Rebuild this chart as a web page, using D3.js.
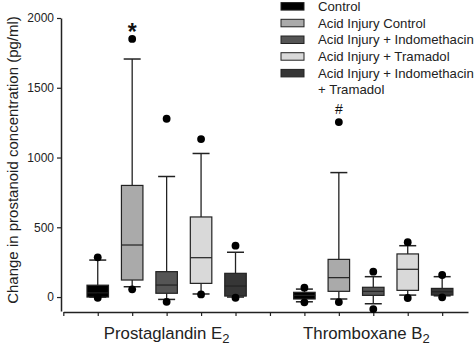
<!DOCTYPE html>
<html><head><meta charset="utf-8">
<script src="https://cdn.jsdelivr.net/npm/d3@7"></script>
<style>body{margin:0;background:#fff}svg{display:block;font-family:"Liberation Sans",Arial,sans-serif}</style>
</head><body><svg id="c" width="474" height="344"></svg>
<script>
const groups = ["Prostaglandin E", "Thromboxane B"];
const seriesNames = ["Control","Acid Injury Control","Acid Injury + Indomethacin","Acid Injury + Tramadol","Acid Injury + Indomethacin + Tramadol"];
const seriesColors = ["#000000","#aaaaaa","#555555","#d9d9d9","#363636"];
// box stats per group: [lowWhisker, q1, median, q3, highWhisker]
const pgeStats = [[0,0,30,85,265],[74,122,373,800,1706],[-17,27,86,182,864],[22,98,282,574,1029],[0,7,79,170,321]];
const txbStats = [[-34,-14,12,34,57],[-14,41,139,270,892],[-48,12,41,70,146],[14,48,199,309,368],[9,14,38,62,146]];
const pgeOutliers = [[-5,285],[55,1850],[-34,1278],[19,1132],[-5,368]];
const txbOutliers = [[-38,67],[-36,1254],[-86,182],[-7,393],[-2,158]];
const markers = [{g:0,s:1,text:"*"},{g:1,s:1,text:"#"}];
const yTicks = [0,500,1000,1500,2000];

const svg = d3.select("#c");
const x = d3.scaleLinear().domain([0,11.75]).range([63.3,468]);
const y = d3.scaleLinear().domain([-100,2000]).range([311,18]);
const pos = (g,s)=> g*6 + s + 1;
const boxW = 21.5, capW = 17;

// axes
const ya = svg.append("g").attr("transform","translate(61,0)")
  .call(d3.axisLeft(y).tickValues(yTicks).tickSize(4).tickSizeOuter(0).tickFormat(d3.format("d")));
ya.selectAll("text").attr("font-size",12).attr("fill","#222").attr("font-family","Liberation Sans, Arial");
ya.select(".domain").attr("stroke","#222").attr("stroke-width",1.5);
ya.selectAll(".tick line").attr("stroke","#222").attr("stroke-width",1.2);

const xa = svg.append("g").attr("transform","translate(0,312)")
  .call(d3.axisBottom(x).tickValues(d3.range(0,12)).tickSize(4).tickSizeOuter(0).tickFormat(""));
xa.select(".domain").attr("stroke","#222").attr("stroke-width",1.5);
xa.selectAll(".tick line").attr("stroke","#222").attr("stroke-width",1.2);

// boxes
const all = [pgeStats, txbStats];
const outs = [pgeOutliers, txbOutliers];
all.forEach((stats,g)=>{
  stats.forEach((st,s)=>{
    const cx = x(pos(g,s));
    const G = svg.append("g");
    G.append("line").attr("x1",cx).attr("x2",cx).attr("y1",y(st[4])).attr("y2",y(st[3])).attr("stroke","#222").attr("stroke-width",1.3);
    G.append("line").attr("x1",cx).attr("x2",cx).attr("y1",y(st[1])).attr("y2",y(st[0])).attr("stroke","#222").attr("stroke-width",1.3);
    G.append("line").attr("x1",cx-capW/2).attr("x2",cx+capW/2).attr("y1",y(st[4])).attr("y2",y(st[4])).attr("stroke","#222").attr("stroke-width",1.5);
    G.append("line").attr("x1",cx-capW/2).attr("x2",cx+capW/2).attr("y1",y(st[0])).attr("y2",y(st[0])).attr("stroke","#222").attr("stroke-width",1.5);
    G.append("rect").attr("x",cx-boxW/2).attr("width",boxW).attr("y",y(st[3])).attr("height",y(st[1])-y(st[3]))
      .attr("fill",seriesColors[s]).attr("stroke","#222").attr("stroke-width",1.2);
    G.append("line").attr("x1",cx-boxW/2).attr("x2",cx+boxW/2).attr("y1",y(st[2])).attr("y2",y(st[2])).attr("stroke","#222").attr("stroke-width",1.2);
    outs[g][s].forEach(v=>{
      G.append("circle").attr("cx",cx).attr("cy",y(v)).attr("r",3.9).attr("fill","#000");
    });
  });
});

// significance markers
markers.forEach(m=>{
  const top = d3.max(outs[m.g][m.s]);
  const star = m.text==="*";
  svg.append("text").attr("x",x(pos(m.g,m.s))).attr("y",star ? y(top)+1 : y(top)-8).attr("text-anchor","middle")
    .attr("font-size",star?23:14).attr("font-weight",star?"bold":"normal").attr("fill","#111")
    .text(m.text);
});

// group labels
const glab = [x(3), x(8.8)];
groups.forEach((gname,i)=>{
  const t = svg.append("text").attr("x",glab[i]).attr("y",339).attr("text-anchor","middle").attr("font-size",16.8).attr("fill","#222");
  t.append("tspan").text(gname);
  t.append("tspan").attr("font-size",13).attr("dy",3.5).text("2");
});

// y label
svg.append("text").attr("transform","translate(17.5,160) rotate(-90)").attr("text-anchor","middle")
  .attr("font-size",15).attr("fill","#222").text("Change in prostanoid concentration (pg/ml)");

// legend
const leg = svg.append("g");
const legRows = [[seriesNames[0]],[seriesNames[1]],["Acid Injury + Indomethacin"],[seriesNames[3]],["Acid Injury + Indomethacin","+ Tramadol"]];
legRows.forEach((lines,i)=>{
  const yy = 6.5 + i*16.7;
  leg.append("rect").attr("x",281).attr("y",yy-3.9).attr("width",23).attr("height",7.5)
    .attr("fill",seriesColors[i]).attr("stroke","#222").attr("stroke-width",1);
  lines.forEach((ln,j)=>{
    leg.append("text").attr("x",318).attr("y",yy+4.3+j*16).attr("font-size",13.2).attr("fill","#222").text(ln);
  });
});
</script></body></html>
